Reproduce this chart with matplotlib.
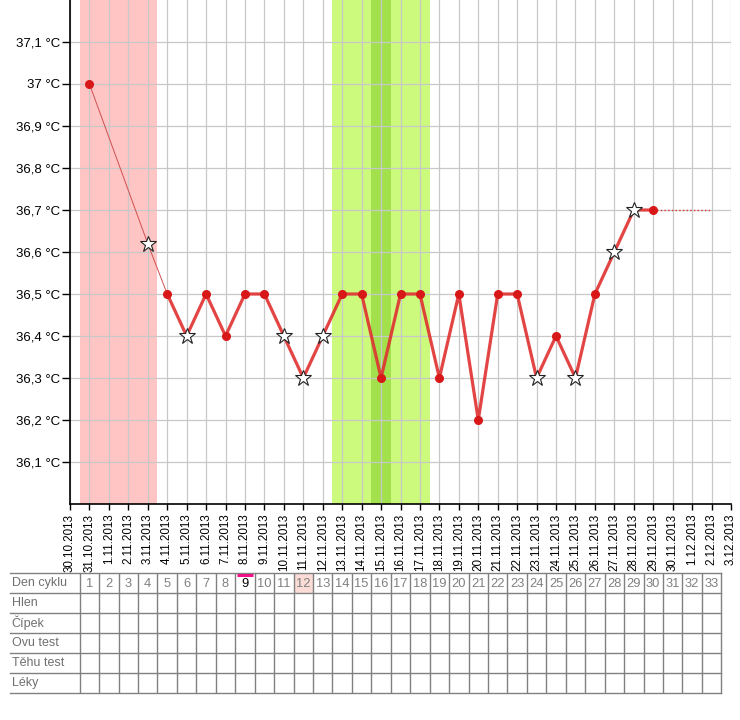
import matplotlib.pyplot as plt
from matplotlib.patches import Rectangle

plt.rcParams['font.family'] = ['Liberation Sans', 'DejaVu Sans']

# x axis: one tick per calendar day (index 0 = 30.10.2013, index n = cycle day n)
date_labels = ['30.10.2013', '31.10.2013', '1.11.2013', '2.11.2013', '3.11.2013',
               '4.11.2013', '5.11.2013', '6.11.2013', '7.11.2013', '8.11.2013',
               '9.11.2013', '10.11.2013', '11.11.2013', '12.11.2013', '13.11.2013',
               '14.11.2013', '15.11.2013', '16.11.2013', '17.11.2013', '18.11.2013',
               '19.11.2013', '20.11.2013', '21.11.2013', '22.11.2013', '23.11.2013',
               '24.11.2013', '25.11.2013', '26.11.2013', '27.11.2013', '28.11.2013',
               '29.11.2013', '30.11.2013', '1.12.2013', '2.12.2013', '3.12.2013']

y_ticks = [36.1, 36.2, 36.3, 36.4, 36.5, 36.6, 36.7, 36.8, 36.9, 37.0, 37.1]
y_labels = ['36,1 °C', '36,2 °C', '36,3 °C', '36,4 °C', '36,5 °C', '36,6 °C',
            '36,7 °C', '36,8 °C', '36,9 °C', '37 °C', '37,1 °C']

# measured temperatures per cycle day
early_days = [1, 4, 5]
early_temps = [37.0, 36.62, 36.5]
days = [5, 6, 7, 8, 9, 10, 11, 12, 13, 14, 15, 16, 17, 18, 19, 20, 21, 22, 23,
        24, 25, 26, 27, 28, 29, 30]
temps = [36.5, 36.4, 36.5, 36.4, 36.5, 36.5, 36.4, 36.3, 36.4, 36.5, 36.5, 36.3,
         36.5, 36.5, 36.3, 36.5, 36.2, 36.5, 36.5, 36.3, 36.4, 36.3, 36.5, 36.6,
         36.7, 36.7]
star_days = [4, 6, 11, 12, 13, 24, 26, 28, 29]
proj_days = [30, 33]
proj_temps = [36.7, 36.7]

# shaded periods (first day, last day)
period_days = (1, 4)
fertile_days = (14, 18)
ovulation_day = 16

# table
row_names = ['Den cyklu', 'Hlen', 'Čípek', 'Ovu test', 'Těhu test', 'Léky']
cycle_numbers = list(range(1, 34))
today = 9
marked_day = 12

fig = plt.figure(figsize=(7.4, 7.2), dpi=100)
ax = fig.add_axes([70 / 740, 216 / 720, 661 / 740, 504 / 720])

ax.axvspan(period_days[0] - 0.5, period_days[1] + 0.5, color='#ffc4c4', lw=0, zorder=0)
ax.axvspan(fertile_days[0] - 0.5, fertile_days[1] + 0.5, color='#ccfa7c', lw=0, zorder=0)
ax.axvspan(ovulation_day - 0.5, ovulation_day + 0.5, color='#a2e04c', lw=0, zorder=0)

all_days = early_days + days
all_temps = early_temps + temps
values = dict(zip(all_days, all_temps))
star_t = [values[d] for d in star_days]
dot_d = sorted(d for d in values if d not in star_days)
dot_t = [values[d] for d in dot_d]

ax.plot(early_days, early_temps, color='#d05050', lw=0.7, zorder=2)
ax.plot(days, temps, color='#e03030', lw=2.3, alpha=0.9, zorder=2)
ax.plot(proj_days, proj_temps, ':', color='#e03030', lw=1.0, zorder=2)
ax.plot(dot_d, dot_t, 'o', color='#d81818', ms=5.5, zorder=4, lw=0)
ax.plot(star_days, star_t, '*', ms=12, mfc='white', mec='#222222', mew=0.8,
        zorder=5, lw=0)

ax.set_xlim(0, 34)
ax.set_ylim(36.0, 37.2)
ax.set_xticks(range(len(date_labels)))
ax.set_xticklabels(date_labels, rotation=90, fontsize=8.4)
ax.set_yticks(y_ticks)
ax.set_yticklabels(y_labels, fontsize=9.5)
ax.grid(True, color='#c8c8c8', lw=0.9)
ax.set_axisbelow('line')
for s in ['top', 'right']:
    ax.spines[s].set_visible(False)
ax.spines['left'].set_linewidth(1.2)
ax.spines['bottom'].set_linewidth(1.2)
ax.tick_params(axis='y', length=6, width=1, pad=1)
ax.tick_params(axis='x', length=4, width=1, pad=3)

# table under the chart, columns aligned with the days
tax = fig.add_axes([70 / 740, 27 / 720, 661 / 740, 120 / 720])
tax.set_xlim(0, 34)
tax.set_ylim(len(row_names), 0)
tax.axis('off')
left = -3.09
right = cycle_numbers[-1] + 0.5
tax.add_patch(Rectangle((marked_day - 0.5, 0), 1, 1, fc='#fcdcd6', lw=0))
for r in range(len(row_names) + 1):
    tax.plot([left, right], [r, r], color='#808080', lw=1.0, clip_on=False)
for c in cycle_numbers:
    tax.plot([c - 0.5, c - 0.5], [0, len(row_names)], color='#808080', lw=1.0)
tax.plot([right, right], [0, len(row_names)], color='#808080', lw=1.0, clip_on=False)
for r, name in enumerate(row_names):
    tax.text(left + 0.1, r + 0.5, name, ha='left', va='center', fontsize=9,
             color='#707070', clip_on=False)
for c in cycle_numbers:
    col = 'black' if c == today else '#808080'
    tax.text(c, 0.55, str(c), ha='center', va='center', fontsize=9.3, color=col)
tax.plot([today - 0.4, today + 0.4], [0.12, 0.12], color='#ee1188', lw=2.2,
         solid_capstyle='butt')

fig.savefig('out.png', dpi=100)
